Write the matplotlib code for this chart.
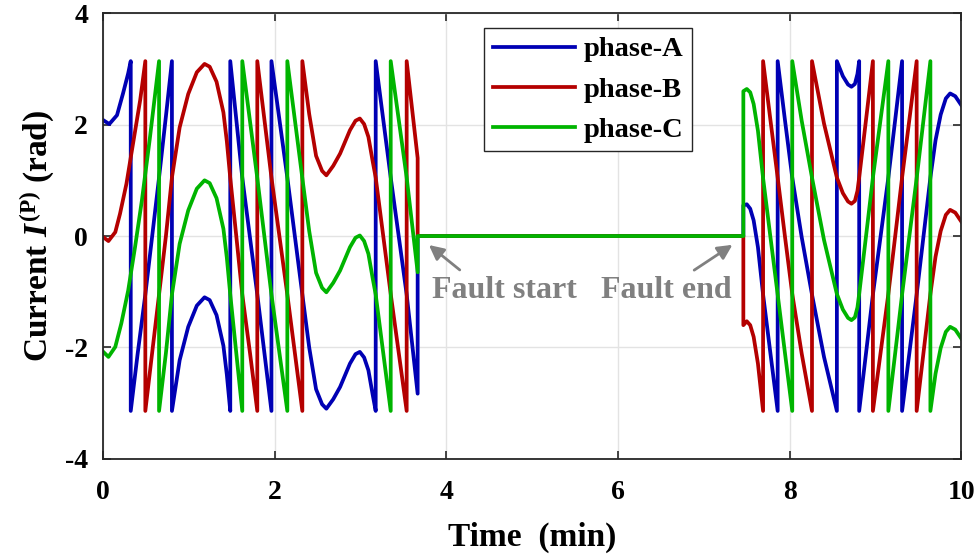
import matplotlib
matplotlib.use('Agg')
import matplotlib.pyplot as plt

plt.rcParams['font.family'] = ['Liberation Serif', 'DejaVu Serif']
plt.rcParams['font.weight'] = 'bold'
plt.rcParams['axes.unicode_minus'] = False
plt.rcParams['mathtext.fontset'] = 'custom'
plt.rcParams['mathtext.rm'] = 'Liberation Serif:bold'
plt.rcParams['mathtext.it'] = 'Liberation Serif:italic:bold'
plt.rcParams['mathtext.bf'] = 'Liberation Serif:bold'

# phase angles (min, rad); repeated times are the +/-pi wraps
t_a = [0, 0.07, 0.16, 0.23, 0.29, 0.32,
       0.32, 0.40, 0.49, 0.57, 0.65, 0.73, 0.80,
       0.80, 0.89, 0.99, 1.09, 1.18, 1.24, 1.32, 1.40, 1.44, 1.48,
       1.48, 1.62, 1.795, 1.96,
       1.96, 2.145, 2.32, 2.40, 2.48, 2.55, 2.60, 2.68, 2.76, 2.875, 2.94, 2.99, 3.04, 3.09, 3.14, 3.175,
       3.175, 3.35, 3.536, 3.664, 3.664, 7.46, 7.46,
       7.50, 7.54, 7.58, 7.63, 7.69, 7.775, 7.86,
       7.86, 7.945, 8.03, 8.14, 8.26, 8.40, 8.55,
       8.55, 8.62, 8.68, 8.72, 8.76, 8.79, 8.81,
       8.81, 8.89, 8.97, 9.06, 9.15, 9.23, 9.31,
       9.31, 9.395, 9.48, 9.56, 9.64, 9.70, 9.76, 9.82, 9.87, 9.93, 10.0]
phase_a = [2.08, 2.01, 2.17, 2.56, 2.92, 3.14,
           -3.14, -2.12, -1.05, 0.0, 1.05, 2.15, 3.14,
           -3.14, -2.23, -1.63, -1.25, -1.10, -1.15, -1.42, -1.97, -2.49, -3.14,
           3.14, 1.05, -1.05, -3.14,
           3.14, 1.05, -1.05, -2.0, -2.75, -3.02, -3.10, -2.93, -2.71, -2.29, -2.12, -2.08, -2.18, -2.41, -2.85, -3.14,
           3.14, 1.05, -1.05, -2.83, 0.0, 0.0, 0.55,
           0.57, 0.49, 0.28, -0.20, -1.05, -2.10, -3.14,
           3.14, 2.08, 1.05, -0.02, -1.05, -2.17, -3.14,
           3.14, 2.87, 2.72, 2.68, 2.73, 2.91, 3.14,
           -3.14, -2.10, -1.05, 0.0, 1.05, 2.09, 3.14,
           -3.14, -2.10, -1.05, 0.0, 1.05, 1.72, 2.18, 2.47, 2.56, 2.51, 2.35]

t_b = [0, 0.06, 0.14, 0.195, 0.27, 0.35, 0.43, 0.49,
       0.49, 0.57, 0.65, 0.73, 0.80, 0.89, 0.99, 1.09, 1.18, 1.24, 1.32, 1.40, 1.44, 1.48, 1.55, 1.62, 1.71, 1.795,
       1.795, 1.96, 2.145, 2.32,
       2.32, 2.40, 2.48, 2.55, 2.60, 2.68, 2.76, 2.875, 2.94, 2.99, 3.04, 3.09, 3.14, 3.175, 3.35, 3.536,
       3.536, 3.664, 3.664, 7.46, 7.46,
       7.50, 7.54, 7.58, 7.63, 7.69,
       7.69, 7.775, 7.86, 7.945, 8.03, 8.14, 8.26,
       8.26, 8.40, 8.55, 8.62, 8.68, 8.72, 8.76, 8.79, 8.81, 8.89, 8.97,
       8.97, 9.06, 9.15, 9.23, 9.31, 9.395, 9.48,
       9.48, 9.56, 9.64, 9.70, 9.76, 9.82, 9.87, 9.93, 10.0]
phase_b = [-0.02, -0.09, 0.07, 0.40, 0.94, 1.69, 2.44, 3.14,
           -3.14, -2.09, -1.05, 0.0, 1.05, 1.95, 2.55, 2.94, 3.09, 3.04, 2.77, 2.22, 1.70, 1.04, 0.0, -1.05, -2.1, -3.14,
           3.14, 1.05, -1.05, -3.14,
           3.14, 2.19, 1.44, 1.17, 1.09, 1.26, 1.48, 1.90, 2.07, 2.11, 2.01, 1.78, 1.34, 1.05, -1.04, -3.14,
           3.14, 1.40, 0.0, 0.0, -1.60,
           -1.53, -1.60, -1.81, -2.29, -3.14,
           3.14, 2.09, 1.05, -0.01, -1.04, -2.11, -3.14,
           3.14, 2.02, 1.05, 0.77, 0.62, 0.58, 0.63, 0.81, 1.05, 2.09, 3.14,
           -3.14, -2.09, -1.04, 0.0, 1.05, 2.09, 3.14,
           -3.14, -2.09, -1.04, -0.37, 0.09, 0.38, 0.47, 0.42, 0.26]

t_c = [0, 0.06, 0.14, 0.21, 0.29, 0.37, 0.45, 0.54, 0.65,
       0.65, 0.73, 0.80, 0.89, 0.99, 1.09, 1.18, 1.24, 1.32, 1.40, 1.44, 1.48, 1.55, 1.62,
       1.62, 1.795, 1.96, 2.145,
       2.145, 2.32, 2.40, 2.48, 2.55, 2.60, 2.68, 2.76, 2.875, 2.94, 2.99, 3.04, 3.09, 3.14, 3.175, 3.35,
       3.35, 3.536, 3.664, 3.664, 7.46, 7.46,
       7.50, 7.54, 7.58, 7.63, 7.69, 7.775, 7.86, 7.945, 8.03,
       8.03, 8.14, 8.26, 8.40, 8.55, 8.62, 8.68, 8.72, 8.76, 8.79, 8.81, 8.89, 8.97, 9.06, 9.15,
       9.15, 9.23, 9.31, 9.395, 9.48, 9.56, 9.64,
       9.64, 9.70, 9.76, 9.82, 9.87, 9.93, 10.0]
phase_c = [-2.08, -2.17, -1.99, -1.57, -0.98, -0.20, 0.64, 1.72, 3.14,
           -3.14, -2.1, -1.05, -0.14, 0.46, 0.85, 1.00, 0.95, 0.68, 0.13, -0.39, -1.05, -2.1, -3.14,
           3.14, 1.04, -1.05, -3.14,
           3.14, 1.04, 0.09, -0.66, -0.93, -1.01, -0.84, -0.62, -0.20, -0.03, 0.01, -0.09, -0.32, -0.76, -1.05, -3.14,
           3.14, 1.05, -0.65, 0.0, 0.0, 2.60,
           2.64, 2.58, 2.37, 1.89, 1.04, -0.01, -1.05, -2.10, -3.14,
           3.14, 2.07, 1.05, -0.07, -1.04, -1.32, -1.47, -1.51, -1.46, -1.28, -1.04, 0.0, 1.05, 2.10, 3.14,
           -3.14, -2.1, -1.05, 0.0, 1.04, 2.09, 3.14,
           -3.14, -2.47, -2.01, -1.72, -1.63, -1.68, -1.84]

x_ticks = [0, 2, 4, 6, 8, 10]
y_ticks = [-4, -2, 0, 2, 4]

fig = plt.figure(figsize=(9.79, 5.54), dpi=100)
ax = fig.add_axes([0.1055, 0.1718, 0.8764, 0.8043])

ax.plot(t_a, phase_a, color='#0000b4', lw=2.7, label='phase-A')
ax.plot(t_b, phase_b, color='#b40000', lw=2.7, label='phase-B')
ax.plot(t_c, phase_c, color='#00b400', lw=2.7, label='phase-C')

ax.set_xlim(0, 10)
ax.set_ylim(-4, 4)
ax.set_xticks(x_ticks)
ax.set_yticks(y_ticks)
ax.grid(True, color='#e3e3e3', lw=1)
ax.set_axisbelow(True)
ax.tick_params(direction='in', top=True, right=True, length=6, width=1.2,
               labelsize=20, color='#262626')
ax.tick_params(axis='x', pad=15)
ax.tick_params(axis='y', pad=11)
for s in ax.spines.values():
    s.set_linewidth(1.3)
    s.set_color('#262626')

ax.set_xlabel('Time  (min)', fontsize=24, fontweight='bold', labelpad=12)
ax.set_ylabel(r'Current $I^{\mathrm{(P)}}$ (rad)', fontsize=24, fontweight='bold', labelpad=6)

leg = ax.legend(loc='upper left', bbox_to_anchor=(484 / 979, 1 - 28 / 554),
                bbox_transform=fig.transFigure, fontsize=20.5, fancybox=False,
                edgecolor='#262626', framealpha=1, handlelength=2.9,
                handletextpad=0.3, labelspacing=0.5, borderpad=0.3, borderaxespad=0)
leg.get_frame().set_linewidth(1.0)

# fault markers
gray = '#808080'
ax.annotate('', xy=(3.77, -0.13), xytext=(4.18, -0.64),
            arrowprops=dict(arrowstyle='-|>', color=gray, lw=2, mutation_scale=22))
ax.text(4.68, -0.97, 'Fault start', color=gray, fontsize=23, ha='center', va='center')
ax.annotate('', xy=(7.36, -0.13), xytext=(6.86, -0.64),
            arrowprops=dict(arrowstyle='-|>', color=gray, lw=2, mutation_scale=22))
ax.text(6.56, -0.97, 'Fault end', color=gray, fontsize=23, ha='center', va='center')

fig.savefig('out.png', dpi=100)
